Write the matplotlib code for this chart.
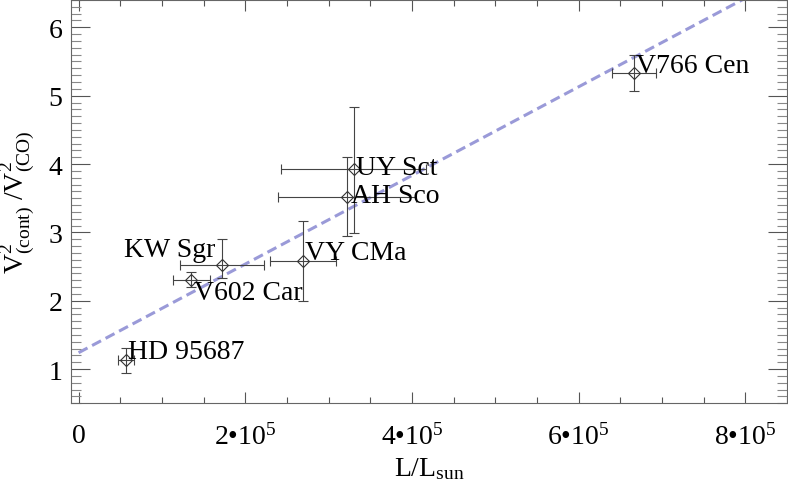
import matplotlib
matplotlib.use('Agg')
import matplotlib.pyplot as plt
from matplotlib.ticker import MultipleLocator, FixedLocator, FixedFormatter

plt.rcParams['font.family'] = ['Liberation Serif', 'DejaVu Serif']
plt.rcParams['mathtext.fontset'] = 'custom'
plt.rcParams['mathtext.rm'] = 'Liberation Serif'
plt.rcParams['mathtext.it'] = 'Liberation Serif:italic'

# stars, luminosity (L/Lsun) and visibility ratio
names = ['HD 95687', 'V602 Car', 'KW Sgr', 'VY CMa', 'AH Sco', 'UY Sct', 'V766 Cen']
lum = [57200, 135200, 172000, 269200, 322000, 330400, 666400]
lum_err = [9400, 22400, 50800, 40000, 82800, 87000, 26600]
ratio = [1.13, 2.31, 2.52, 2.58, 3.52, 3.92, 5.33]
ratio_err_lo = [0.18, 0.11, 0.19, 0.58, 0.58, 0.93, 0.26]
ratio_err_hi = [0.18, 0.11, 0.39, 0.58, 0.58, 0.92, 0.26]

# label offsets in pixels (dx, dy) and alignment
label_dx = [2, 3, -7, 2, 4, 2, 2]
label_dy = [9, -13, 16, 9, 1, 2, 8]
label_ha = ['left', 'left', 'right', 'left', 'left', 'left', 'left']

# linear fit line endpoints
fit_x = [0, 850000]
fit_y = [1.24, 6.75]

xtick_vals = [0, 2e5, 4e5, 6e5, 8e5]
xtick_labels = ['0', '2•10$^5$', '4•10$^5$', '6•10$^5$', '8•10$^5$']

fig = plt.figure(figsize=(7.88, 4.81), dpi=100)
ax = fig.add_axes([0.0897, 0.1595, 0.909, 0.8385])

ax.plot(fit_x, fit_y, color='#9a9ad8', lw=2.2, dashes=(3.3, 1.7), zorder=1)

ax.errorbar(lum, ratio, xerr=lum_err, yerr=[ratio_err_lo, ratio_err_hi],
            fmt='D', ms=6.5, mfc='none', mec='#333333', mew=0.8,
            ecolor='#444444', elinewidth=0.8, capsize=3.6, capthick=0.8, zorder=2)

for i, name in enumerate(names):
    ax.annotate(name, (lum[i], ratio[i]), xytext=(label_dx[i], label_dy[i]),
                textcoords='offset pixels', ha=label_ha[i], va='center',
                fontsize=20, color='black')

ax.set_xlim(-9500, 850000)
ax.set_ylim(0.5, 6.4)

ax.xaxis.set_major_locator(FixedLocator(xtick_vals))
ax.xaxis.set_major_formatter(FixedFormatter(xtick_labels))
ax.xaxis.set_minor_locator(MultipleLocator(50000))
ax.yaxis.set_major_locator(MultipleLocator(1))
ax.yaxis.set_minor_locator(MultipleLocator(0.1))

ax.tick_params(which='both', direction='in', top=True, right=True,
               labelsize=20, color='#555555')
ax.tick_params(axis='x', which='major', length=8, width=0.8, pad=14)
ax.tick_params(axis='x', which='minor', length=4, width=0.8)
ax.tick_params(axis='y', which='major', length=14, width=0.8, pad=6)
ax.tick_params(axis='y', which='minor', length=7, width=0.8, color='#888888')

for s in ax.spines.values():
    s.set_color('#666666')
    s.set_linewidth(0.8)

ax.set_xlabel('L/L$_{\\mathrm{sun}}$', fontsize=20, labelpad=4)
ax.set_ylabel('V$^2_{\\mathrm{(cont)}}$ /V$^2_{\\mathrm{(CO)}}$', fontsize=20, labelpad=8)

fig.savefig('out.png', dpi=100)
